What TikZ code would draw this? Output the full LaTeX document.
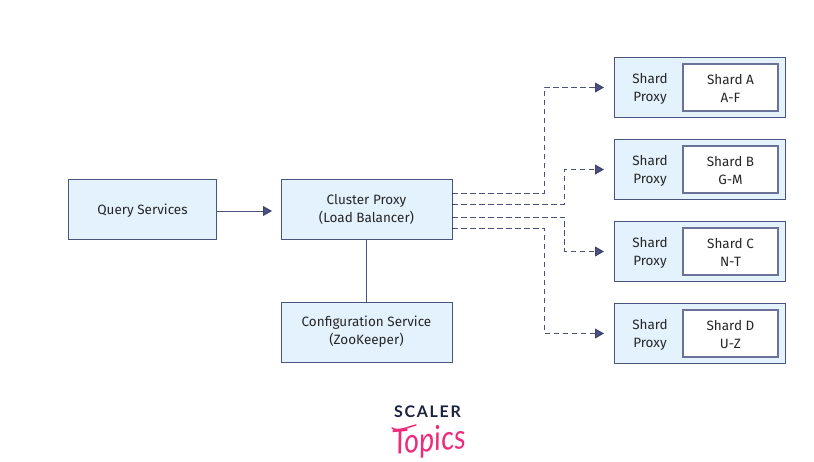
\documentclass[tikz,border=0pt]{standalone}
\usepackage{fontspec}
\setmainfont{Fira Sans}
\newfontfamily\logofont{Lato}
\usetikzlibrary{arrows.meta,calc}
\definecolor{navy}{HTML}{2E3266}
\definecolor{edgeblue}{HTML}{4A5480}
\definecolor{paleblue}{HTML}{E3F2FD}
\definecolor{innerline}{HTML}{6B7299}
\definecolor{logoink}{HTML}{1B2240}
\definecolor{logopink}{HTML}{EE2A7B}
\tikzset{
  x=1pt,y=-1pt,
  lbl/.style={font=\fontsize{13.5}{18}\selectfont,align=center,text=black!85,inner sep=0pt},
  box/.style={draw=edgeblue,line width=1pt,fill=paleblue,minimum width=#1,minimum height=60pt,inner sep=0pt,lbl},
  box/.default=171pt,
  shardbox/.style={box=170.5pt},
  innerbox/.style={draw=innerline,line width=1.1pt,fill=white,minimum width=95pt,minimum height=47pt,lbl},
  link/.style={draw=navy,line width=.9pt,opacity=.85},
  flow/.style={link,-{Triangle[length=9pt,width=10pt,fill=navy]}},
  dashflow/.style={flow,dash pattern=on 5.5pt off 3.5pt},
  swash/.style={draw=logopink,line width=1.5pt,line cap=round},
}
\begin{document}
\begin{tikzpicture}
\useasboundingbox (0,0) rectangle (814,462);
\node[box=148pt] (query) at (142.5,209.5) {};
\node[lbl] (querytext) at (142.5,210.5) {Query Services};
\node[box] (cluster) at (366.5,209.5) {};
\node[lbl] (clustertext) at (366.5,209) {Cluster Proxy\\(Load Balancer)};
\node[box] (config) at (366.5,332.5) {};
\node[lbl] (configtext) at (366.5,332) {Configuration Service\\(ZooKeeper)};
\foreach \n/\y/\t/\r in {a/87.5/Shard A/A-F,b/169.5/Shard B/G-M,c/251.5/Shard C/N-T,d/333.5/Shard D/U-Z}{
  \node[shardbox] (outer\n) at (699.75,\y) {};
  \node[lbl] (proxy\n) at (650,\y+1) {Shard\\Proxy};
  \node[innerbox] (inner\n) at (730.5,\y) {};
  \node[lbl] (innertext\n) at (730.5,\y+1) {\t\\\r};
  \coordinate (tip\n) at (604,\y);
}
\draw[flow] (query.east |- 0,211) -- (272,211) coordinate (qtip);
\draw[link] (cluster.south) -- (config.north);
\coordinate (sa) at (452,193.5);
\coordinate (sb) at (452,204);
\coordinate (sc) at (452,217);
\coordinate (sd) at (452,228);
\draw[dashflow] (sa) -| (544,87.5) -- (tipa);
\draw[dashflow] (sb) -| (564.5,169.5) -- (tipb);
\draw[dashflow] (sc) -| (564.5,251.5) -- (tipc);
\draw[dashflow] (sd) -| (544,333.5) -- (tipd);
\node[inner sep=0pt,text=logoink] (scaler) at (427.5,412) {\logofont\bfseries\fontsize{16}{16}\selectfont S\kern1.7pt C\kern1.7pt A\kern1.7pt L\kern1.7pt E\kern1.7pt R};
\node[inner sep=0pt,text=logopink,rotate=5,xscale=.84,anchor=center] (topics) at (429,442) {\logofont\itshape\fontsize{34}{34}\selectfont Topics};
\draw[swash] (392,428) .. controls (398,432) and (408,427) .. (416,425);
\end{tikzpicture}
\end{document}
